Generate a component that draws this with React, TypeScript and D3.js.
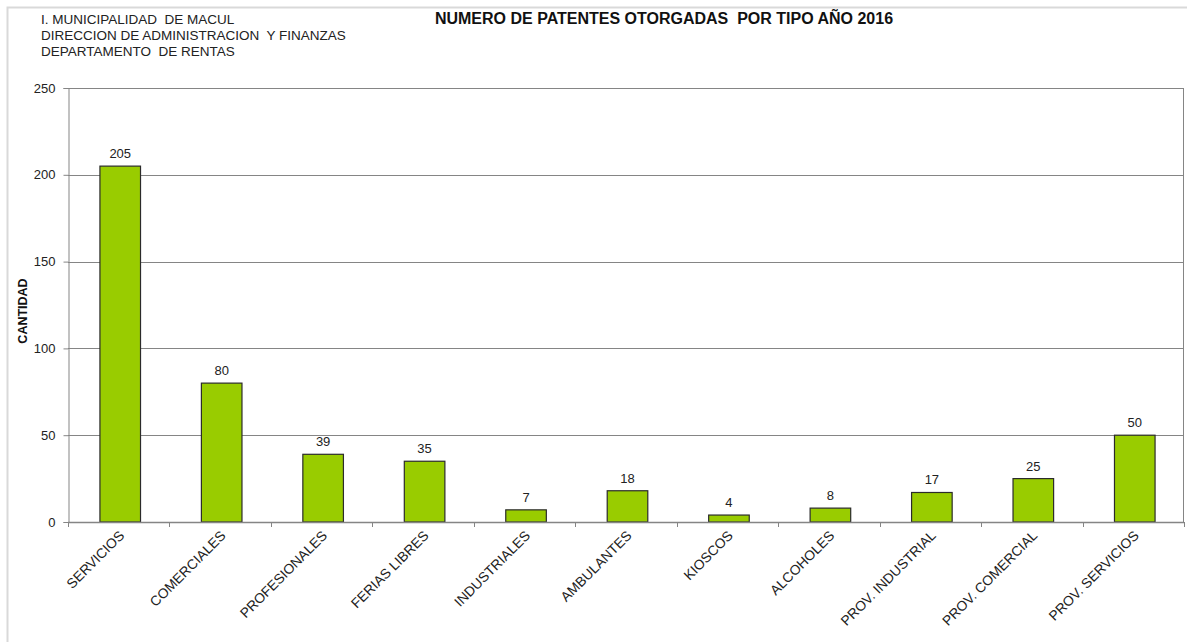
import React, { useEffect, useRef } from "react";
import * as d3 from "d3";

const categories = [
  "SERVICIOS",
  "COMERCIALES",
  "PROFESIONALES",
  "FERIAS LIBRES",
  "INDUSTRIALES",
  "AMBULANTES",
  "KIOSCOS",
  "ALCOHOLES",
  "PROV. INDUSTRIAL",
  "PROV. COMERCIAL",
  "PROV. SERVICIOS",
];
const values = [205, 80, 39, 35, 7, 18, 4, 8, 17, 25, 50];
const yTicks = [0, 50, 100, 150, 200, 250];
const headerLines = [
  "I. MUNICIPALIDAD  DE MACUL",
  "DIRECCION DE ADMINISTRACION  Y FINANZAS",
  "DEPARTAMENTO  DE RENTAS",
];
const title = "NUMERO DE PATENTES OTORGADAS  POR TIPO AÑO 2016";
const yLabel = "CANTIDAD";

const App = () => {
  const ref = useRef<SVGSVGElement>(null);

  useEffect(() => {
    const width = 1187;
    const height = 642;
    const margin = { top: 88, right: 3, bottom: 120, left: 68 };
    const font = "'Liberation Sans', Arial, sans-serif";

    const svg = d3.select(ref.current);
    svg.selectAll("*").remove();
    svg.attr("width", width).attr("height", height);

    svg
      .append("rect")
      .attr("x", 7.5)
      .attr("y", 7.5)
      .attr("width", width + 10)
      .attr("height", height + 10)
      .attr("fill", "white")
      .attr("stroke", "#d9d9d9")
      .attr("stroke-width", 2);

    const xBand = d3
      .scaleBand()
      .domain(categories)
      .range([margin.left, width - margin.right]);

    const y = d3
      .scaleLinear()
      .domain([0, 250])
      .range([height - margin.bottom, margin.top]);

    // gridlines
    svg
      .append("g")
      .selectAll("line")
      .data(yTicks.filter((t) => t > 0))
      .enter()
      .append("line")
      .attr("x1", margin.left)
      .attr("x2", width - margin.right)
      .attr("y1", (d) => Math.round(y(d)) + 0.5)
      .attr("y2", (d) => Math.round(y(d)) + 0.5)
      .attr("stroke", "#858585");

    // right frame
    svg
      .append("line")
      .attr("x1", width - margin.right - 0.5)
      .attr("x2", width - margin.right - 0.5)
      .attr("y1", margin.top)
      .attr("y2", y(0))
      .attr("stroke", "#858585");

    // bars
    svg
      .selectAll(".bar")
      .data(values)
      .enter()
      .append("rect")
      .attr("class", "bar")
      .attr("x", (d, i) => xBand(categories[i])! + xBand.bandwidth() * 0.3 + 1.5)
      .attr("y", (d) => y(d))
      .attr("width", xBand.bandwidth() * 0.4)
      .attr("height", (d) => y(0) - y(d))
      .attr("fill", "#99cc00")
      .attr("stroke", "#2b2b2b")
      .attr("stroke-width", 1.2);

    // value labels
    svg
      .selectAll(".val")
      .data(values)
      .enter()
      .append("text")
      .attr("x", (d, i) => xBand(categories[i])! + xBand.bandwidth() / 2 + 1.5)
      .attr("y", (d) => y(d) - 8)
      .attr("text-anchor", "middle")
      .attr("font-family", font)
      .attr("font-size", 13)
      .attr("fill", "#222")
      .text((d) => d);

    // y axis
    const yAxis = svg
      .append("g")
      .attr("transform", `translate(${margin.left + 0.5},0)`)
      .call(d3.axisLeft(y).tickValues(yTicks).tickSize(5).tickPadding(8));
    yAxis.select(".domain").attr("stroke", "#858585");
    yAxis.selectAll(".tick line").attr("stroke", "#858585");
    yAxis
      .selectAll("text")
      .attr("font-family", font)
      .attr("font-size", 13)
      .attr("fill", "#222");

    // x axis
    const boundaries = categories.map((c) => xBand(c)!).concat([width - margin.right]);
    svg
      .append("line")
      .attr("x1", margin.left)
      .attr("x2", width - margin.right)
      .attr("y1", Math.round(y(0)) + 0.5)
      .attr("y2", Math.round(y(0)) + 0.5)
      .attr("stroke", "#858585")
      .attr("stroke-width", 1.5);
    svg
      .append("g")
      .selectAll("line")
      .data(boundaries)
      .enter()
      .append("line")
      .attr("x1", (d) => Math.round(d) + 0.5)
      .attr("x2", (d) => Math.round(d) + 0.5)
      .attr("y1", y(0))
      .attr("y2", y(0) + 5)
      .attr("stroke", "#858585");

    svg
      .append("g")
      .selectAll("text")
      .data(categories)
      .enter()
      .append("text")
      .attr("transform", (d) => {
        const cx = xBand(d)! + xBand.bandwidth() / 2 + 3;
        return `translate(${cx},${y(0) + 11}) rotate(-45)`;
      })
      .attr("text-anchor", "end")
      .attr("dy", "0.35em")
      .attr("font-family", font)
      .attr("font-size", 13.8)
      .attr("fill", "#222")
      .text((d) => d);

    // y label
    svg
      .append("text")
      .attr("transform", `translate(27,${(margin.top + y(0)) / 2 + 6}) rotate(-90)`)
      .attr("text-anchor", "middle")
      .attr("font-family", font)
      .attr("font-size", 12.5)
      .attr("font-weight", "bold")
      .attr("fill", "#111")
      .text(yLabel);

    // header
    svg
      .append("g")
      .selectAll("text")
      .data(headerLines)
      .enter()
      .append("text")
      .attr("x", 41)
      .attr("y", (d, i) => 24 + i * 16)
      .attr("xml:space", "preserve")
      .style("white-space", "pre")
      .attr("font-family", font)
      .attr("font-size", 13.5)
      .attr("fill", "#222")
      .text((d) => d);

    svg
      .append("text")
      .attr("x", 664)
      .attr("y", 24)
      .attr("xml:space", "preserve")
      .style("white-space", "pre")
      .attr("text-anchor", "middle")
      .attr("font-family", font)
      .attr("font-size", 16)
      .attr("font-weight", "bold")
      .attr("fill", "#111")
      .text(title);
  }, []);

  return (
    <div style={{ position: "absolute", left: 0, top: 0 }}>
      <svg ref={ref}></svg>
    </div>
  );
};

export default App;
